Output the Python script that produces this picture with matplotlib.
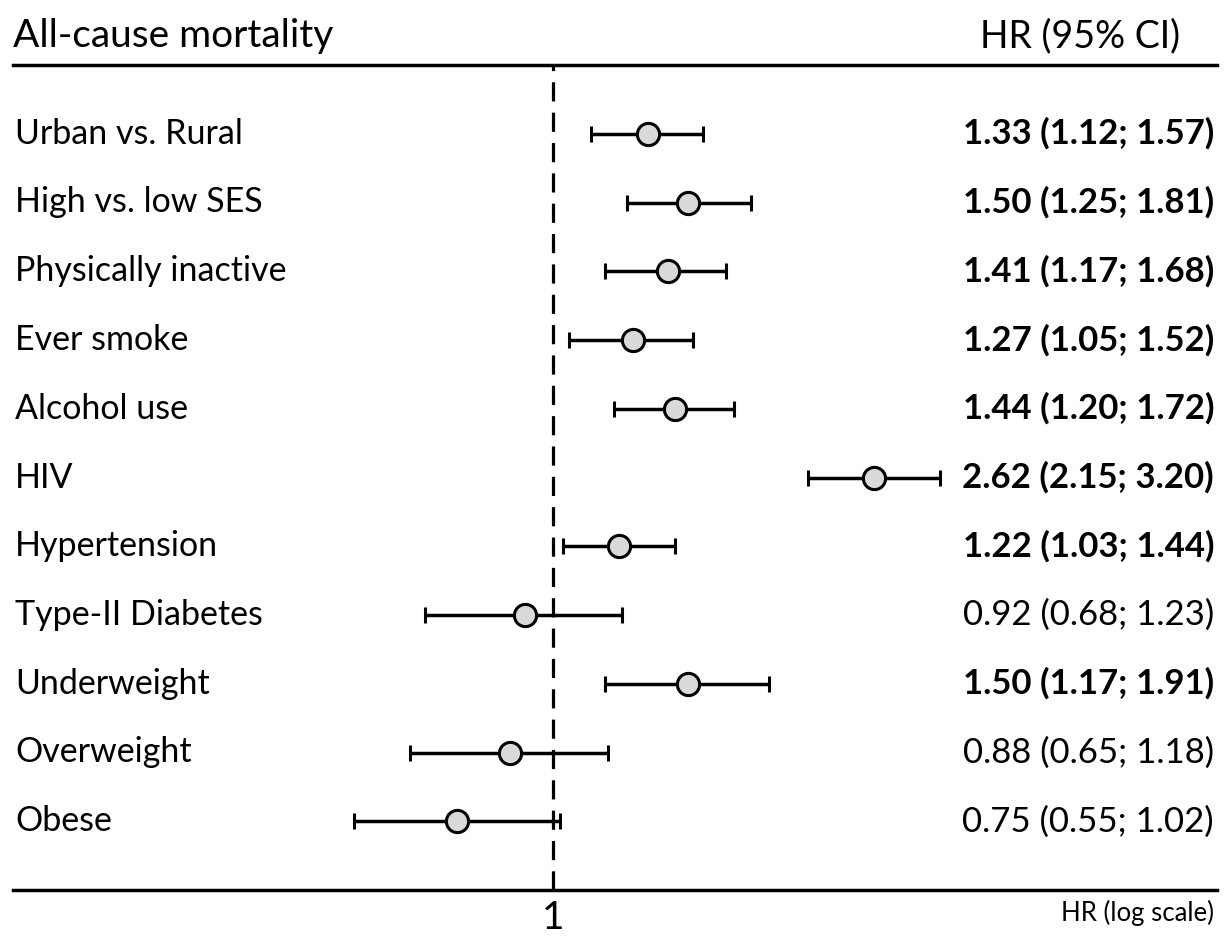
import numpy as np
import matplotlib.pyplot as plt

plt.rcParams['font.family'] = ['Lato', 'DejaVu Sans']

labels = ["Urban vs. Rural", "High vs. low SES", "Physically inactive", "Ever smoke",
          "Alcohol use", "HIV", "Hypertension", "Type-II Diabetes", "Underweight",
          "Overweight", "Obese"]
hr = [1.33, 1.50, 1.41, 1.27, 1.44, 2.62, 1.22, 0.92, 1.50, 0.88, 0.75]
lo = [1.12, 1.25, 1.17, 1.05, 1.20, 2.15, 1.03, 0.68, 1.17, 0.65, 0.55]
hi = [1.57, 1.81, 1.68, 1.52, 1.72, 3.20, 1.44, 1.23, 1.91, 1.18, 1.02]

hr = np.array(hr)
lo = np.array(lo)
hi = np.array(hi)
ypos = np.arange(1, len(labels) + 1)

fig = plt.figure(figsize=(12.25, 9.39), dpi=100)
W, H = 1225, 939
ax = fig.add_axes([13 / W, (939 - 890) / H, (1217 - 13) / W, (890 - 65) / H])

ax.set_xscale('log')
ax.set_xlim(0.1976, 7.34)
ax.set_ylim(12, 0)

# reference line at HR = 1
ax.axvline(1, color='black', lw=2.3, ls=(0, (6, 3.5)), zorder=1)
ax.errorbar(hr, ypos, xerr=[hr - lo, hi - hr], fmt='o', color='black',
            ecolor='black', elinewidth=2.5, capsize=6, capthick=2.5,
            markersize=16, markerfacecolor='#d9d9d9', markeredgecolor='black',
            markeredgewidth=2.2, zorder=3)

for s in ['left', 'right']:
    ax.spines[s].set_visible(False)
ax.spines['top'].set_linewidth(2.5)
ax.spines['bottom'].set_linewidth(2.5)
ax.set_yticks([])
ax.set_xticks([1])
ax.set_xticklabels(['1'], fontsize=28)
ax.minorticks_off()
ax.tick_params(axis='x', length=0, pad=7)

tr = ax.get_yaxis_transform()
for y, lab, h, l, u in zip(ypos, labels, hr, lo, hi):
    ax.text(2 / W, y, lab, transform=tr, fontsize=24.5, va='center', ha='left')
    ax.text(1.0 - 3 / W, y, f"{h:.2f} ({l:.2f}; {u:.2f})", transform=tr,
            fontsize=25, va='center', ha='right',
            fontweight='bold' if l > 1 else 'normal')

fig.text(13 / W, 1 - 36 / H, "All-cause mortality", fontsize=28, va='center', ha='left')
fig.text(1180 / W, 1 - 36 / H, "HR (95% CI)", fontsize=27, va='center', ha='right')
fig.text(1214 / W, 1 - 913 / H, "HR (log scale)", fontsize=18.5, va='center', ha='right')

fig.savefig('out.png', dpi=100)
